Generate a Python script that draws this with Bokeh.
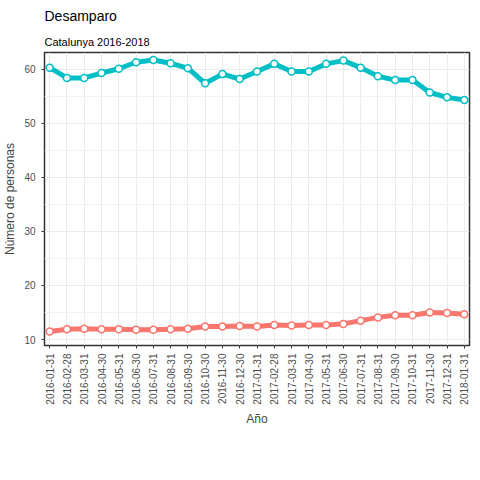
from bokeh.plotting import figure
from bokeh.models import ColumnDataSource, FixedTicker, Title, Legend, LegendItem, Range1d, Label
from bokeh.embed import file_html
from bokeh.resources import INLINE

fechas = ["2016-01-31", "2016-02-28", "2016-03-31", "2016-04-30", "2016-05-31", "2016-06-30",
          "2016-07-31", "2016-08-31", "2016-09-30", "2016-10-30", "2016-11-30", "2016-12-30",
          "2017-01-31", "2017-02-28", "2017-03-31", "2017-04-30", "2017-05-31", "2017-06-30",
          "2017-07-31", "2017-08-31", "2017-09-30", "2017-10-31", "2017-11-30", "2017-12-31",
          "2018-01-31"]
sin_sep = [11.5, 11.9, 12.0, 11.9, 11.9, 11.8, 11.8, 11.9, 12.0, 12.4, 12.4, 12.5, 12.4,
           12.7, 12.6, 12.7, 12.7, 12.9, 13.5, 14.1, 14.5, 14.5, 15.0, 14.9, 14.7]
con_sep = [60.3, 58.4, 58.4, 59.3, 60.1, 61.3, 61.7, 61.1, 60.2, 57.4, 59.1, 58.2, 59.6,
           61.0, 59.6, 59.6, 61.0, 61.6, 60.3, 58.7, 58.0, 58.0, 55.7, 54.8, 54.3]
yticks = [10, 20, 30, 40, 50, 60]

idx = list(range(len(fechas)))
src = ColumnDataSource(dict(x=idx, sin=sin_sep, con=con_sep))

FONT = "Liberation Sans"
y0, y1 = 8.9, 63.1
p = figure(width=472, height=464, output_backend="svg", toolbar_location=None,
           x_range=Range1d(-0.3, len(fechas) - 0.7), y_range=Range1d(y0, y1),
           min_border_left=34, min_border_right=3, min_border_bottom=119,
           background_fill_color="white")

p.add_layout(Title(text="Catalunya 2016-2018", text_font=FONT, text_font_size="11px",
                   text_font_style="normal", text_color="black"), "above")
p.add_layout(Title(text="Desamparo", text_font=FONT, text_font_size="14px",
                   text_font_style="normal", text_color="black"), "above")

red, cyan = "#F8766D", "#00BFC4"
lr = p.line("x", "sin", source=src, line_color=red, line_width=5)
p.scatter("x", "sin", source=src, size=7, fill_color="white", line_color=red, line_width=1.5)
lc = p.line("x", "con", source=src, line_color=cyan, line_width=5)
p.scatter("x", "con", source=src, size=7, fill_color="white", line_color=cyan, line_width=1.5)

legend = Legend(items=[LegendItem(label="Estudio desamparo sin separación", renderers=[lr]),
                       LegendItem(label="Estudio desamparo con separación", renderers=[lc])],
                orientation="horizontal", location=(44, -102), border_line_color=None,
                background_fill_alpha=0, label_text_font=FONT, label_text_font_size="10px",
                glyph_width=18, spacing=10, margin=0, padding=2)
p.add_layout(legend, "center")

# caption below legend, in data coordinates under the frame
dy = (y1 - y0) / 305.0
p.add_layout(Label(x=len(fechas) - 0.8, y=y0 - 115 * dy, text="Fuente: Elaboración propia a partir de los datos de @SINIA-DGAIA",
                   text_align="right", text_baseline="middle", text_font=FONT, text_font_size="11px",
                   text_color="black"))

p.xaxis.ticker = FixedTicker(ticks=idx)
p.xaxis.major_label_overrides = {i: f for i, f in enumerate(fechas)}
p.xaxis.major_label_orientation = 3.14159 / 2
p.yaxis.ticker = FixedTicker(ticks=yticks, minor_ticks=[15, 25, 35, 45, 55])
p.xaxis.axis_label = "Año"
p.yaxis.axis_label = "Número de personas"
for ax in (p.xaxis, p.yaxis):
    ax.axis_line_color = None
    ax.major_tick_line_color = "#333333"
    ax.major_tick_in = 0
    ax.major_tick_out = 3
    ax.minor_tick_line_color = None
    ax.major_label_text_font = FONT
    ax.major_label_text_font_size = "10px"
    ax.major_label_text_color = "#4d4d4d"
    ax.axis_label_text_font = FONT
    ax.axis_label_text_font_size = "12px"
    ax.axis_label_text_font_style = "normal"
    ax.axis_label_standoff = 4
p.xgrid.grid_line_color = "#ebebeb"
p.ygrid.grid_line_color = "#ebebeb"
p.ygrid.minor_grid_line_color = "#f2f2f2"
p.outline_line_color = "#333333"
p.outline_line_width = 1.5

open("out.html", "w").write(file_html(p, INLINE))
